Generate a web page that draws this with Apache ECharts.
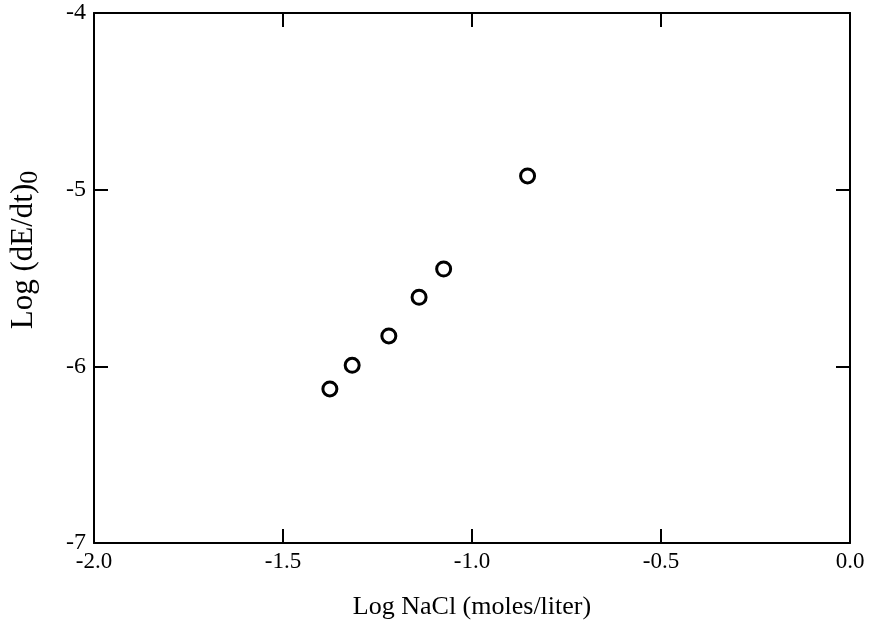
<!DOCTYPE html>
<html>
<head>
<meta charset="utf-8">
<script src="https://cdn.jsdelivr.net/npm/echarts@6/dist/echarts.min.js"></script>
<style>html,body{margin:0;padding:0;background:#fff;}#c{width:870px;height:636px;}</style>
</head>
<body>
<div id="c"></div>
<script>
const logNaCl = [-1.376, -1.317, -1.220, -1.140, -1.075, -0.853];
const logRate = [-6.128, -5.994, -5.828, -5.609, -5.449, -4.922];
const xTicks = [-2.0, -1.5, -1.0, -0.5, 0.0];
const yTicks = [-7, -6, -5, -4];

const font = '"Liberation Serif", "DejaVu Serif", serif';
const chart = echarts.init(document.getElementById('c'), null, {renderer: 'canvas'});
const axisLine = {show: true, onZero: false, lineStyle: {color: '#000', width: 2}};
const tick = {show: true, inside: true, length: 14, lineStyle: {color: '#000', width: 2}};
chart.setOption({
  animation: false,
  backgroundColor: '#fff',
  grid: {left: 94, right: 20, top: 13, bottom: 93},
  xAxis: [{
    type: 'value', min: -2, max: 0, interval: 0.5, position: 'bottom',
    axisLine: axisLine, axisTick: tick, splitLine: {show: false},
    axisLabel: {color: '#000', fontFamily: font, fontSize: 23, margin: 7,
      formatter: v => v.toFixed(1)},
    name: 'Log NaCl (moles/liter)', nameLocation: 'middle', nameGap: 51,
    nameTextStyle: {color: '#000', fontFamily: font, fontSize: 26}
  }, {
    type: 'value', min: -2, max: 0, interval: 0.5, position: 'top',
    axisLine: axisLine, axisTick: tick, splitLine: {show: false}, axisLabel: {show: false}
  }],
  yAxis: [{
    type: 'value', min: -7, max: -4, interval: 1, position: 'left',
    axisLine: axisLine, axisTick: tick, splitLine: {show: false},
    axisLabel: {color: '#000', fontFamily: font, fontSize: 24, margin: 8}
  }, {
    type: 'value', min: -7, max: -4, interval: 1, position: 'right',
    axisLine: axisLine, axisTick: tick, splitLine: {show: false}, axisLabel: {show: false}
  }],
  graphic: [{
    type: 'text', x: 24, y: 250, rotation: Math.PI / 2,
    style: {
      text: '{a|Log (dE/dt)}{b|0}',
      align: 'center', verticalAlign: 'middle', fill: '#000',
      rich: {
        a: {fontFamily: font, fontSize: 31, fill: '#000', color: '#000'},
        b: {fontFamily: font, fontSize: 26, fill: '#000', color: '#000', padding: [12, 0, 0, 0]}
      }
    }
  }],
  series: [{
    type: 'scatter',
    data: logNaCl.map((x, i) => [x, logRate[i]]),
    symbol: 'circle', symbolSize: 14,
    itemStyle: {color: '#fff', borderColor: '#000', borderWidth: 3, opacity: 1}
  }]
});
</script>
</body>
</html>
